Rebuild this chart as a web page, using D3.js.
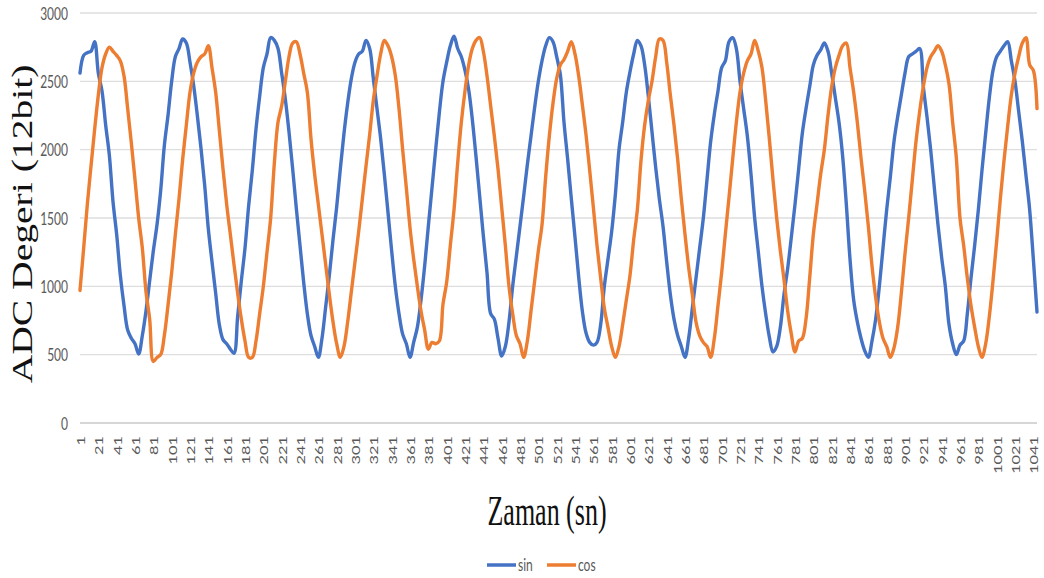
<!DOCTYPE html>
<html>
<head>
<meta charset="utf-8">
<script src="https://cdn.jsdelivr.net/npm/d3@7"></script>
<style>
  html, body { margin: 0; padding: 0; background: #ffffff; }
  svg { display: block; }
</style>
</head>
<body>
<svg id="chart" width="1044" height="578"></svg>
<script>
// ADC readings (12-bit) of a sine and a cosine channel, logged once per second.
// Readings below are listed for every 4th sample.
const sampleCount = 1045;
const readEvery = 4;
const categories = d3.range(1, sampleCount + 1);
const xTickLabels = d3.range(1, sampleCount + 1, 20);
const yTickLabels = [0, 500, 1000, 1500, 2000, 2500, 3000];
const seriesNames = ["sin", "cos"];

const sinValues = [
  2560,2690,2710,2720,2790,2560,2430,2180,1960,1620,1380,1080,860,680,620,580,505,640,820,1040,1260,1450,1700,2030,2250,
  2500,2680,2740,2810,2780,2640,2470,2250,2010,1740,1420,1180,950,720,610,580,540,510,780,1040,1280,1590,1850,2150,2390,
  2600,2700,2820,2800,2740,2560,2370,2130,1860,1570,1300,1030,800,640,560,480,620,850,1080,1340,1580,1860,2120,2340,2520,
  2640,2700,2720,2800,2740,2520,2300,2080,1820,1540,1260,1000,800,650,580,480,590,700,900,1150,1440,1720,2000,2270,2500,
  2640,2760,2830,2740,2680,2580,2440,2220,1950,1660,1370,1100,800,760,620,490,560,740,1000,1220,1440,1660,1890,2100,2310,
  2500,2650,2760,2820,2790,2680,2550,2200,1930,1640,1360,1070,820,660,590,570,590,720,1000,1200,1400,1670,2000,2200,2420,
  2570,2700,2800,2760,2620,2390,2130,1870,1640,1440,1180,940,760,640,560,480,620,840,1060,1280,1500,1780,2060,2260,2430,
  2600,2650,2790,2820,2740,2500,2300,2100,1820,1500,1250,1000,800,630,520,560,700,940,1130,1360,1600,1860,2120,2300,2460,
  2620,2690,2730,2780,2720,2560,2380,2200,1950,1600,1200,900,740,620,530,480,600,760,1000,1280,1560,1800,2060,2240,2400,
  2560,2680,2700,2720,2740,2460,2240,2000,1720,1450,1210,1000,720,580,500,570,600,800,1060,1300,1560,1850,2120,2380,2580,
  2680,2720,2760,2790,2650,2500,2280,2060,1810,1560,1200,812
];

const cosValues = [
  970,1280,1600,1880,2150,2400,2600,2700,2750,2720,2690,2650,2540,2300,2050,1780,1500,1280,960,760,450,480,500,640,860,
  1100,1380,1640,1930,2180,2420,2560,2640,2680,2700,2760,2600,2420,2140,1860,1600,1380,1160,950,760,600,480,480,600,800,
  1000,1250,1500,1900,2200,2320,2500,2680,2780,2790,2700,2560,2420,2080,1820,1600,1380,1160,940,740,580,480,560,740,960,
  1180,1400,1640,1880,2110,2360,2540,2700,2800,2760,2680,2540,2300,2000,1720,1430,1200,1000,820,680,540,590,580,600,870,
  1030,1300,1560,1900,2200,2430,2620,2740,2800,2820,2720,2540,2320,2100,1860,1580,1300,1000,800,640,580,480,600,820,1040,
  1260,1450,1800,2100,2340,2520,2620,2660,2720,2790,2700,2540,2330,2110,1850,1580,1300,1060,840,700,560,480,560,720,900,
  1080,1340,1560,1920,2180,2360,2500,2680,2810,2800,2640,2400,2180,1930,1640,1380,1140,940,740,640,590,560,480,620,860,
  1100,1380,1650,1930,2200,2420,2560,2650,2700,2800,2720,2600,2360,2080,1780,1500,1260,1050,820,650,520,600,620,760,1060,
  1380,1600,1820,2000,2250,2460,2600,2690,2760,2780,2600,2420,2200,1940,1700,1440,1150,920,740,620,560,480,550,700,950,
  1240,1500,1780,2060,2280,2460,2600,2680,2720,2760,2720,2620,2480,2200,1940,1500,1300,1060,860,700,560,480,580,780,1040,
  1330,1640,1920,2170,2400,2560,2680,2780,2820,2620,2580,2300
];

const seriesColors = ["#4472C4", "#ED7D31"];
const seriesValues = [sinValues, cosValues];

const plot = { left: 80, right: 1037, top: 13, bottom: 423 };
const labelFont = "Lato, 'Open Sans', sans-serif";
const titleFont = "'Liberation Serif', 'Times New Roman', serif";
const textStretch = 1.36;

const svg = d3.select("#chart");

const x = d3.scalePoint().domain(categories).range([plot.left, plot.right]);
const y = d3.scaleLinear().domain([0, 3000]).range([plot.bottom, plot.top]);

// horizontal gridlines, the zero line doubling as the category axis
svg.append("g")
  .selectAll("line")
  .data(yTickLabels)
  .join("line")
  .attr("x1", plot.left)
  .attr("x2", plot.right)
  .attr("y1", d => y(d))
  .attr("y2", d => y(d))
  .attr("stroke", d => d === 0 ? "#c8c8c8" : "#dedede")
  .attr("stroke-width", 1.3);

// value axis labels
const yAxis = svg.append("g")
  .attr("transform", `translate(${plot.left},0)`)
  .call(d3.axisLeft(y).tickValues(yTickLabels).tickFormat(d3.format("d")).tickSize(0).tickPadding(0));
yAxis.select(".domain").remove();
yAxis.attr("font-family", labelFont).attr("font-size", 12);
yAxis.selectAll("text")
  .attr("x", null)
  .attr("dy", null)
  .attr("fill", "#595959")
  .attr("text-anchor", "end")
  .attr("dominant-baseline", "central")
  .attr("transform", `translate(-12,0) scale(1,${textStretch})`);

// category axis labels, rotated
const xAxis = svg.append("g")
  .attr("transform", `translate(0,${plot.bottom})`)
  .call(d3.axisBottom(x).tickValues(xTickLabels).tickSize(0).tickPadding(0));
xAxis.select(".domain").remove();
xAxis.attr("font-family", labelFont).attr("font-size", 12);
xAxis.selectAll("text")
  .attr("y", null)
  .attr("dy", null)
  .attr("fill", "#595959")
  .attr("text-anchor", "end")
  .attr("dominant-baseline", "central")
  .attr("transform", `translate(0,13) rotate(-90) scale(${textStretch},1)`);

// series lines
const readingTimes = categories.filter((c, i) => i % readEvery === 0);
const line = d3.line()
  .x((d, i) => x(readingTimes[i]))
  .y(d => y(d))
  .curve(d3.curveCatmullRom.alpha(0.5));

svg.append("g")
  .selectAll("path")
  .data(seriesValues)
  .join("path")
  .attr("d", d => line(d))
  .attr("fill", "none")
  .attr("stroke", (d, i) => seriesColors[i])
  .attr("stroke-width", 3.4)
  .attr("stroke-linejoin", "round")
  .attr("stroke-linecap", "round");

// axis titles
svg.append("text")
  .attr("transform", `translate(32,224) rotate(-90) scale(1.32,1)`)
  .attr("text-anchor", "middle")
  .attr("font-family", titleFont)
  .attr("font-size", 30)
  .attr("fill", "#111")
  .text("ADC Degeri (12bit)");

svg.append("text")
  .attr("transform", "translate(547,525) scale(1,1.6)")
  .attr("text-anchor", "middle")
  .attr("font-family", titleFont)
  .attr("font-size", 26)
  .attr("fill", "#111")
  .text("Zaman (sn)");

// legend
const legend = svg.append("g").attr("transform", "translate(487,565)");
const legendItem = legend.selectAll("g")
  .data(seriesNames)
  .join("g")
  .attr("transform", (d, i) => `translate(${i * 60},0)`);
legendItem.append("line")
  .attr("x1", 0).attr("x2", 29)
  .attr("y1", 0).attr("y2", 0)
  .attr("stroke", (d, i) => seriesColors[i])
  .attr("stroke-width", 3.5);
legendItem.append("text")
  .attr("transform", `translate(31,0) scale(1,${textStretch})`)
  .attr("dominant-baseline", "central")
  .attr("font-family", labelFont)
  .attr("font-size", 12)
  .attr("fill", "#595959")
  .text(d => d);
</script>
</body>
</html>
